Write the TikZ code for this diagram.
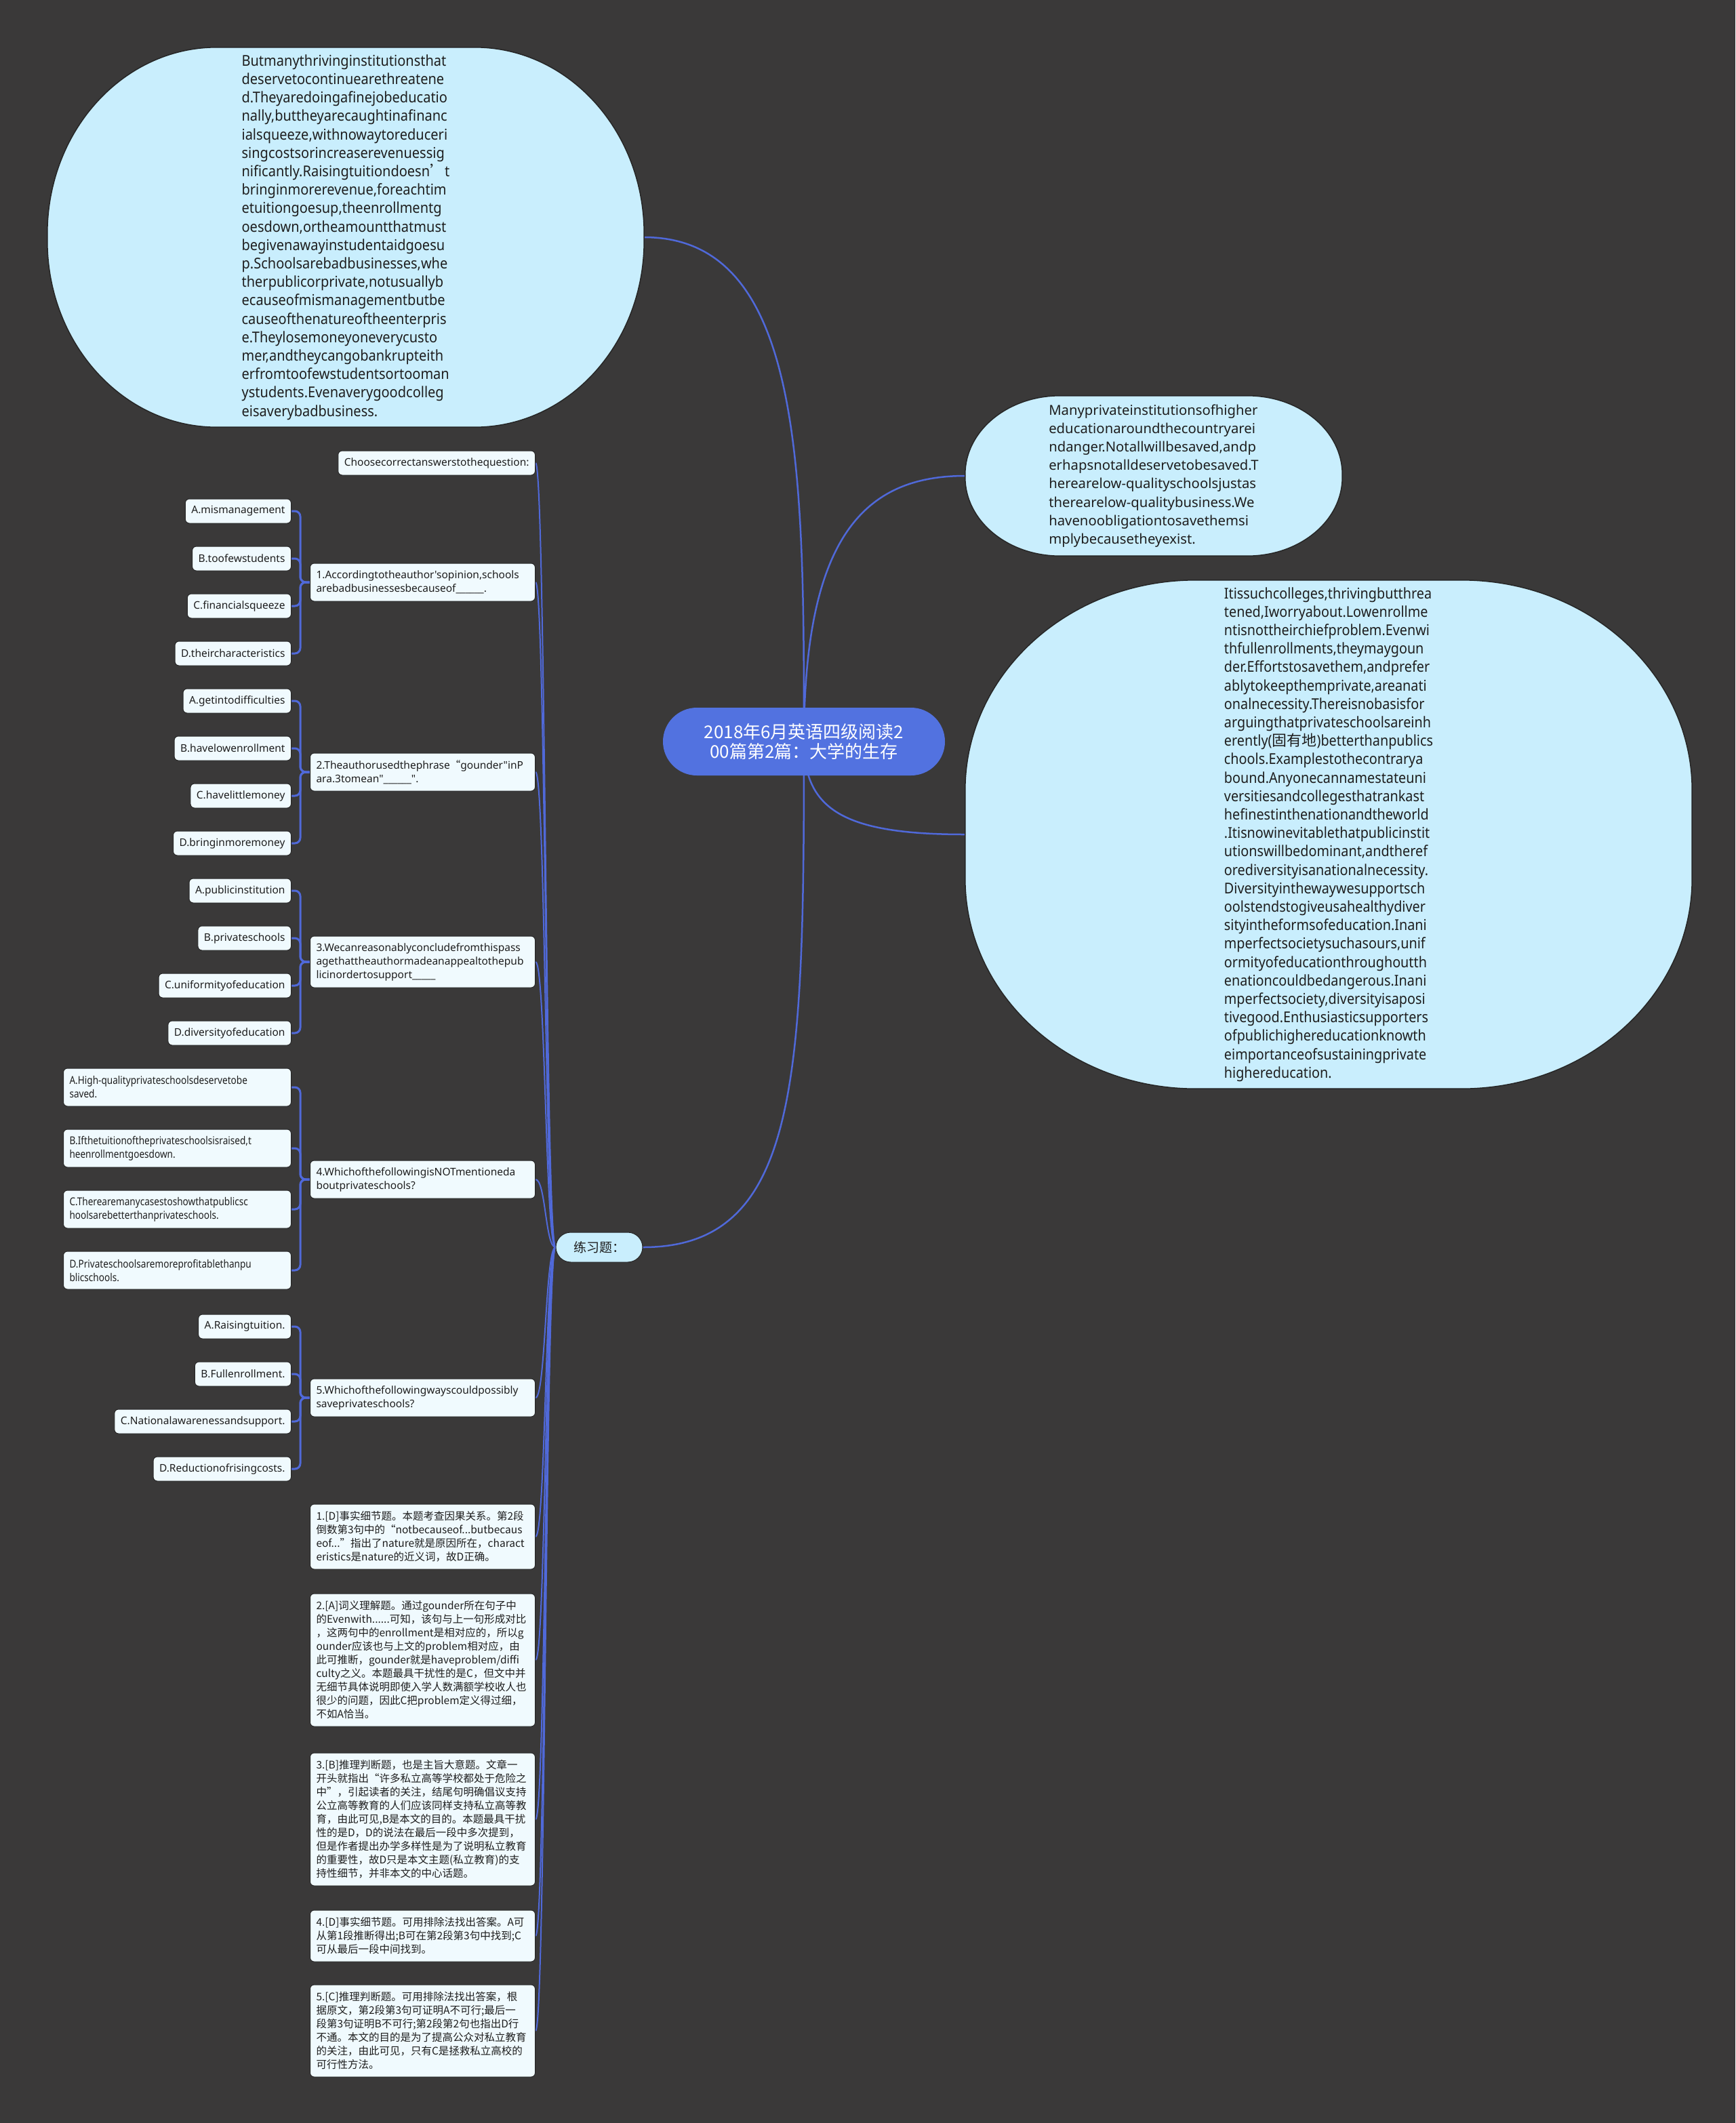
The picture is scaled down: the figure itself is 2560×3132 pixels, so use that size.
\documentclass[tikz,border=0pt]{standalone}
\usepackage{fontspec}
\setmainfont{Noto Sans CJK SC}
\newfontfamily\latf{Noto Sans}
\newfontfamily\latnarrow{Noto Sans}[FakeStretch=0.85]
\newfontfamily\bubfontA{Noto Sans}[FakeStretch=0.91]
\newfontfamily\bubfontB{Noto Sans}[FakeStretch=0.90]
\newfontfamily\cjkf{Noto Sans CJK SC}
\usetikzlibrary{calc}
\definecolor{bgc}{HTML}{3A3939}
\definecolor{linec}{HTML}{5069D9}
\definecolor{ctrc}{HTML}{5272E0}
\definecolor{bubc}{HTML}{C9EEFD}
\definecolor{boxc}{HTML}{F0FAFE}
\definecolor{edgec}{HTML}{262626}
\definecolor{txtc}{HTML}{1E1E1E}
\pgfdeclarelayer{bgl}\pgfdeclarelayer{conl}\pgfdeclarelayer{shpl}
\pgfsetlayers{bgl,conl,shpl,main}
\newcommand\ebub[3]{%
\begin{pgfonlayer}{shpl}
\path[bubble] ($(#1.north west)+(#2,0)$) -- ($(#1.north east)+(-#2,0)$)
 .. controls ($(#1.north east)+(-0.448*#2,0)$) and ($(#1.north east)+(0,0.448*#3)$) .. ($(#1.north east)+(0,#3)$)
 -- ($(#1.south east)+(0,-#3)$)
 .. controls ($(#1.south east)+(0,-0.448*#3)$) and ($(#1.south east)+(-0.448*#2,0)$) .. ($(#1.south east)+(-#2,0)$)
 -- ($(#1.south west)+(#2,0)$)
 .. controls ($(#1.south west)+(0.448*#2,0)$) and ($(#1.south west)+(0,-0.448*#3)$) .. ($(#1.south west)+(0,-#3)$)
 -- ($(#1.north west)+(0,#3)$)
 .. controls ($(#1.north west)+(0,0.448*#3)$) and ($(#1.north west)+(0.448*#2,0)$) .. ($(#1.north west)+(#2,0)$) -- cycle;
\end{pgfonlayer}}
\begin{document}
\begin{tikzpicture}[x=1pt,y=-1pt,
 conn/.style={draw=linec,line width=2.5pt},
 tree/.style={draw=linec,line width=2pt},
 brk/.style={draw=linec,line width=3pt,rounded corners=8pt},
 bubble/.style={fill=bubc,draw=edgec,line width=1.5pt},
 bubtext/.style={inner sep=0pt,align=left,text=txtc},
 sbox/.style={draw=edgec,line width=1pt,fill=boxc,rounded corners=6pt,inner xsep=9pt,inner ysep=4pt,text=txtc,align=left,font=\latf\fontsize{15.5}{20}\selectfont},
 qbox/.style={sbox,anchor=east,text width=314pt},
 ebox/.style={qbox,font=\fontsize{15.5}{20}\selectfont},
 ans/.style={sbox,anchor=east,minimum height=36pt},
 ans4/.style={sbox,anchor=east,text width=318pt,font=\latnarrow\fontsize{16}{20}\selectfont},
 nlines/.style={minimum height=20pt*#1+16pt}]
\begin{pgfonlayer}{bgl}\fill[bgc] (0,0) rectangle (2560,3132);\end{pgfonlayer}
\useasboundingbox (0,0) rectangle (2560,3132);

\node[fill=ctrc,rounded corners=50pt,minimum width=416pt,minimum height=100pt,text=white,align=center,font=\fontsize{26}{29}\selectfont,inner sep=0pt] (ctr) at (1186,1094) {2018年6月英语四级阅读2\\00篇第2篇：大学的生存};

\node[bubtext,minimum width=880pt,minimum height=560pt,font=\bubfontA\fontsize{22}{27.2}\selectfont] (tl) at (510,350) {Butmanythrivinginstitutionsthat\\deservetocontinuearethreatene\\d.Theyaredoingafinejobeducatio\\nally,buttheyarecaughtinafinanc\\ialsqueeze,withnowaytoreduceri\\singcostsorincreaserevenuessig\\nificantly.Raisingtuitiondoesn{\cjkf ’}t\\bringinmorerevenue,foreachtim\\etuitiongoesup,theenrollmentg\\oesdown,ortheamountthatmust\\begivenawayinstudentaidgoesu\\p.Schoolsarebadbusinesses,whe\\therpublicorprivate,notusuallyb\\ecauseofmismanagementbutbe\\causeofthenatureoftheenterpris\\e.Theylosemoneyoneverycusto\\mer,andtheycangobankrupteith\\erfromtoofewstudentsortooman\\ystudents.Evenaverygoodcolleg\\eisaverybadbusiness.};
\ebub{tl}{250}{275}

\node[bubtext,minimum width=556pt,minimum height=236pt,font=\latf\fontsize{20.3}{27.2}\selectfont] (r1) at (1702,702) {Manyprivateinstitutionsofhigher\\educationaroundthecountryarei\\ndanger.Notallwillbesaved,andp\\erhapsnotalldeservetobesaved.T\\herearelow-qualityschoolsjustas\\therearelow-qualitybusiness.We\\havenoobligationtosavethemsi\\mplybecausetheyexist.};
\ebub{r1}{140}{116}

\node[bubtext,minimum width=1072pt,minimum height=750pt,font=\bubfontB\fontsize{22}{27.2}\selectfont] (r2) at (1960,1231) {Itissuchcolleges,thrivingbutthrea\\tened,Iworryabout.Lowenrollme\\ntisnottheirchiefproblem.Evenwi\\thfullenrollments,theymaygoun\\der.Effortstosavethem,andprefer\\ablytokeepthemprivate,areanati\\onalnecessity.Thereisnobasisfor\\arguingthatprivateschoolsareinh\\erently({\cjkf 固有地})betterthanpublics\\chools.Examplestothecontrarya\\bound.Anyonecannamestateuni\\versitiesandcollegesthatrankast\\hefinestinthenationandtheworld\\.Itisnowinevitablethatpublicinstit\\utionswillbedominant,andtheref\\orediversityisanationalnecessity.\\Diversityinthewaywesupportsch\\oolstendstogiveusahealthydiver\\sityintheformsofeducation.Inani\\mperfectsocietysuchasours,unif\\ormityofeducationthroughoutth\\enationcouldbedangerous.Inani\\mperfectsociety,diversityisaposi\\tivegood.Enthusiasticsupporters\\ofpublichighereducationknowth\\eimportanceofsustainingprivate\\highereducation.};
\ebub{r2}{340}{310}

\node[fill=bubc,draw=edgec,line width=1pt,rounded corners=22pt,minimum width=128pt,minimum height=44pt,inner sep=0pt,font=\fontsize{19}{20}\selectfont,text=txtc] (lx) at (884,1840) {练习题：};

\node[ans] (ch) at (790,683) {Choosecorrectanswerstothequestion:};

\node[qbox,nlines=2] (q1) at (790,859) {1.Accordingtotheauthor'sopinion,schools\\arebadbusinessesbecauseof\_\_\_\_\_\_.};
\node[ans] (a1a) at (430,754) {A.mismanagement};
\node[ans] (a1b) at (430,824) {B.toofewstudents};
\node[ans] (a1c) at (430,894) {C.financialsqueeze};
\node[ans] (a1d) at (430,964) {D.theircharacteristics};

\node[qbox,nlines=2] (q2) at (790,1139) {2.Theauthorusedthephrase{\cjkf “}gounder"inP\\ara.3tomean"\_\_\_\_\_\_".};
\node[ans] (a2a) at (430,1034) {A.getintodifficulties};
\node[ans] (a2b) at (430,1104) {B.havelowenrollment};
\node[ans] (a2c) at (430,1174) {C.havelittlemoney};
\node[ans] (a2d) at (430,1244) {D.bringinmoremoney};

\node[qbox,nlines=3] (q3) at (790,1419) {3.Wecanreasonablyconcludefromthispass\\agethattheauthormadeanappealtothepub\\licinordertosupport\_\_\_\_\_};
\node[ans] (a3a) at (430,1314) {A.publicinstitution};
\node[ans] (a3b) at (430,1384) {B.privateschools};
\node[ans] (a3c) at (430,1454) {C.uniformityofeducation};
\node[ans] (a3d) at (430,1524) {D.diversityofeducation};

\node[qbox,nlines=2] (q4) at (790,1740) {4.WhichofthefollowingisNOTmentioneda\\boutprivateschools?};
\node[ans4,nlines=2] (a4a) at (430,1604) {A.High-qualityprivateschoolsdeservetobe\\saved.};
\node[ans4,nlines=2] (a4b) at (430,1694) {B.Ifthetuitionoftheprivateschoolsisraised,t\\heenrollmentgoesdown.};
\node[ans4,nlines=2] (a4c) at (430,1784) {C.Therearemanycasestoshowthatpublicsc\\hoolsarebetterthanprivateschools.};
\node[ans4,nlines=2] (a4d) at (430,1874) {D.Privateschoolsaremoreprofitablethanpu\\blicschools.};

\node[qbox,nlines=2] (q5) at (790,2062) {5.Whichofthefollowingwayscouldpossibly\\saveprivateschools?};
\node[ans] (a5a) at (430,1957) {A.Raisingtuition.};
\node[ans] (a5b) at (430,2027) {B.Fullenrollment.};
\node[ans] (a5c) at (430,2097) {C.Nationalawarenessandsupport.};
\node[ans] (a5d) at (430,2167) {D.Reductionofrisingcosts.};

\node[ebox,nlines=4] (e1) at (790,2267) {1.[D]事实细节题。本题考查因果关系。第2段\\倒数第3句中的“notbecauseof...butbecaus\\eof...”指出了nature就是原因所在，charact\\eristics是nature的近义词，故D正确。};
\node[ebox,nlines=9] (e2) at (790,2449) {2.[A]词义理解题。通过gounder所在句子中\\的Evenwith......可知，该句与上一句形成对比\\，这两句中的enrollment是相对应的，所以g\\ounder应该也与上文的problem相对应，由\\此可推断，gounder就是haveproblem/diffi\\culty之义。本题最具干扰性的是C，但文中并\\无细节具体说明即使入学人数满额学校收人也\\很少的问题，因此C把problem定义得过细，\\不如A恰当。};
\node[ebox,nlines=9] (e3) at (790,2684) {3.[B]推理判断题，也是主旨大意题。文章一\\开头就指出“许多私立高等学校都处于危险之\\中”，引起读者的关注，结尾句明确倡议支持\\公立高等教育的人们应该同样支持私立高等教\\育，由此可见,B是本文的目的。本题最具干扰\\性的是D，D的说法在最后一段中多次提到，\\但是作者提出办学多样性是为了说明私立教育\\的重要性，故D只是本文主题(私立教育)的支\\持性细节，并非本文的中心话题。};
\node[ebox,nlines=3] (e4) at (790,2856) {4.[D]事实细节题。可用排除法找出答案。A可\\从第1段推断得出;B可在第2段第3句中找到;C\\可从最后一段中间找到。};
\node[ebox,nlines=6] (e5) at (790,2996) {5.[C]推理判断题。可用排除法找出答案，根\\据原文，第2段第3句可证明A不可行;最后一\\段第3句证明B不可行;第2段第2句也指出D行\\不通。本文的目的是为了提高公众对私立教育\\的关注，由此可见，只有C是拯救私立高校的\\可行性方法。};

\begin{pgfonlayer}{conl}
\draw[conn] (ctr.center) .. controls +(0,-400) and +(235,0) .. (tl.east);
\draw[conn] (ctr.center) .. controls +(0,-300) and +(-150,0) .. (r1.west);
\draw[conn] (ctr.center) .. controls +(0,100) and +(-180,0) .. (r2.west);
\draw[conn] (ctr.center) .. controls +(0,500) and +(230,0) .. (lx.east);
\foreach \c in {ch,q1,q2,q3,q4,q5,e1,e2,e3,e4,e5}
  \draw[tree] (lx.west) .. controls +(-15,0) and +(15,0) .. (\c.east);
\foreach \q in {1,...,5}
  \foreach \a in {a,b,c,d}
    \draw[brk] (q\q.west) -- ++(-14,0) |- (a\q\a.east);
\end{pgfonlayer}
\end{tikzpicture}
\end{document}
